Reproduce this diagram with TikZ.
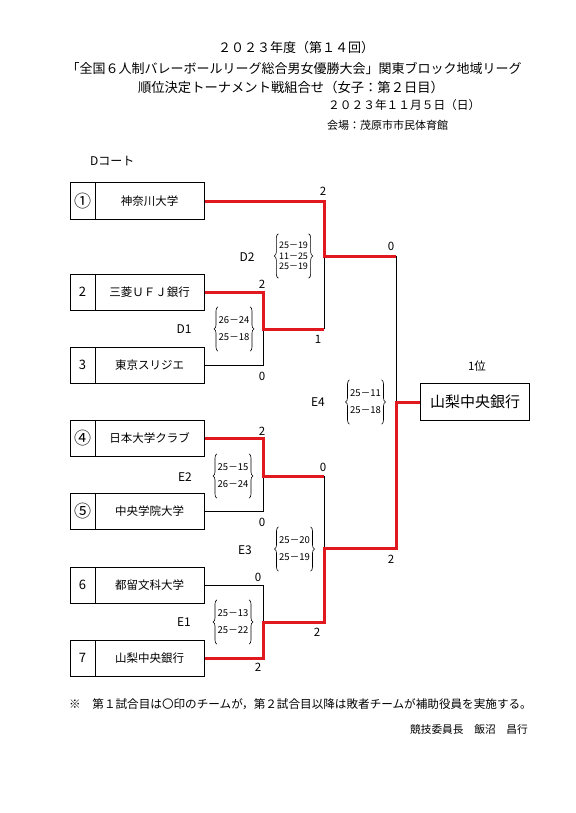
\documentclass[tikz,border=0pt]{standalone}
\usepackage{fontspec}
\setmainfont{Noto Sans CJK JP}
\usetikzlibrary{positioning,calc}
\usetikzlibrary{decorations.pathreplacing}
\definecolor{WinRed}{RGB}{225,25,30}
\tikzset{numcell/.style={draw=black,line width=1pt,minimum width=25pt,minimum height=36pt,inner sep=0pt,font=\fontsize{13}{14}\selectfont},
seedcell/.style={numcell,font=\fontsize{17}{18}\selectfont},
namecell/.style={draw=black,line width=1pt,minimum width=109pt,minimum height=36pt,inner sep=0pt,font=\fontsize{11.5}{13}\selectfont},
win/.style={draw=WinRed,line width=3pt},lose/.style={draw=black,line width=1pt},
pts/.style={font=\fontsize{11.5}{12}\selectfont,inner sep=0pt},
mlab/.style={font=\fontsize{12}{13}\selectfont,inner sep=0pt},
score/.style={font=\fontsize{9.5}{11}\selectfont,align=center,inner sep=0.5pt,minimum height=44pt},
brc/.style={decorate,decoration={brace,amplitude=4pt},line width=0.6pt}}

\begin{document}
\begin{tikzpicture}[x=1pt,y=-1pt]
\useasboundingbox (0,0) rectangle (575,813);
% heading
\node[font=\fontsize{13}{14}\selectfont] (h1) at (296,48) {２０２３年度（第１４回）};
\node[font=\fontsize{13}{14}\selectfont] (h2) at (294,68) {「全国６人制バレーボールリーグ総合男女優勝大会」関東ブロック地域リーグ};
\node[font=\fontsize{13.3}{14}\selectfont] (h3) at (291,87) {順位決定トーナメント戦組合せ（女子：第２日目）};
\node[font=\fontsize{11.7}{14}\selectfont,anchor=west,inner sep=0pt] (h4) at (328,105) {２０２３年１１月５日（日）};
\node[font=\fontsize{11}{12}\selectfont,anchor=west,inner sep=0pt] (h5) at (327,125) {会場：茂原市市民体育館};
\node[font=\fontsize{12}{13}\selectfont,anchor=west,inner sep=0pt] (court) at (90,161) {Dコート};
% teams
\node[seedcell] (n1) at (82.5,201) {①};
\node[namecell] (t1) at (149.5,201) {神奈川大学};
\node[numcell] (n2) at (82.5,292) {2};
\node[namecell] (t2) at (149.5,292) {三菱ＵＦＪ銀行};
\node[numcell] (n3) at (82.5,365) {3};
\node[namecell] (t3) at (149.5,365) {東京スリジエ};
\node[seedcell] (n4) at (82.5,438) {④};
\node[namecell] (t4) at (149.5,438) {日本大学クラブ};
\node[seedcell] (n5) at (82.5,511) {⑤};
\node[namecell] (t5) at (149.5,511) {中央学院大学};
\node[numcell] (n6) at (82.5,585) {6};
\node[namecell] (t6) at (149.5,585) {都留文科大学};
\node[numcell] (n7) at (82.5,658) {7};
\node[namecell] (t7) at (149.5,658) {山梨中央銀行};
\node[draw=black,line width=1pt,minimum width=109pt,minimum height=37pt,inner sep=2pt,anchor=west,font=\fontsize{15}{17}\selectfont] (champ) at (420,402) {山梨中央銀行};
% bracket corners
\coordinate (d1a) at (263,292);
\coordinate (d1b) at (263,365);
\coordinate (d1m) at (263,329);
\coordinate (d2a) at (324,201);
\coordinate (d2b) at (324,329);
\coordinate (d2m) at (324,256);
\coordinate (e2a) at (263,438);
\coordinate (e2b) at (263,511);
\coordinate (e2m) at (263,476);
\coordinate (e1a) at (263,585);
\coordinate (e1b) at (263,658);
\coordinate (e1m) at (263,622);
\coordinate (e3a) at (324,476);
\coordinate (e3b) at (324,622);
\coordinate (e3m) at (324,548);
\coordinate (e4a) at (396,256);
\coordinate (e4b) at (396,548);
\coordinate (e4m) at (396,402);
% losers
\draw[lose] (t3.east) -- (d1b) -- (d1m);
\draw[lose] (d2b) -- (d2m);
\draw[lose] (e4a) -- (e4m);
\draw[lose] (t5.east) -- (e2b) -- (e2m);
\draw[lose] (e3a) -- (e3m);
\draw[lose] (t6.east) -- (e1a) -- (e1m);
% winners
\draw[win] (t2.east) -- (d1a) -- (d1m) -- (d2b);
\draw[win] (t1.east) -- (d2a) -- (d2m) -- (e4a);
\draw[win] (t4.east) -- (e2a) -- (e2m) -- (e3a);
\draw[win] (t7.east) -- (e1b) -- (e1m) -- (e3b) -- (e3m) -- (e4b) -- (e4m) -- (champ.west);
% set counts
\node[pts] (p1) at (323,191) {2};
\node[pts] (p2) at (262,284) {2};
\node[pts] (p3) at (318,339) {1};
\node[pts] (p4) at (262,376) {0};
\node[pts] (p5) at (391,246) {0};
\node[pts] (p6) at (262,431) {2};
\node[pts] (p7) at (262,522) {0};
\node[pts] (p8) at (323,467) {0};
\node[pts] (p9) at (258,577) {0};
\node[pts] (p10) at (317,632) {2};
\node[pts] (p11) at (258,667) {2};
\node[pts] (p12) at (391,559) {2};
\node[pts] (rank) at (477,366) {1位};
% match labels
\node[mlab] (md2) at (247,257) {D2};
\node[mlab] (md1) at (184,329) {D1};
\node[mlab] (me4) at (318,402) {E4};
\node[mlab] (me2) at (185,477) {E2};
\node[mlab] (me3) at (245,550) {E3};
\node[mlab] (me1) at (184,622) {E1};
% scores
\node[score,font=\fontsize{9}{10.5}\selectfont] (sd2) at (293.5,256) {25－19\\11－25\\25－19};
\node[score] (sd1) at (234,329) {26－24\\[6pt]25－18};
\node[score] (se4) at (365.5,402) {25－11\\[6pt]25－18};
\node[score] (se2) at (233,476) {25－15\\[6pt]26－24};
\node[score] (se3) at (294.5,549) {25－20\\[6pt]25－19};
\node[score] (se1) at (233,622) {25－13\\[6pt]25－22};
\foreach \s in {sd2,sd1,se4,se2,se3,se1}{
\draw[brc] (\s.south west) -- (\s.north west);
\draw[brc] (\s.north east) -- (\s.south east);
}
% notes
\node[font=\fontsize{11.6}{13}\selectfont,anchor=west,inner sep=0pt] (note) at (69,704) {※　第１試合目は〇印のチームが，第２試合目以降は敗者チームが補助役員を実施する。};
\node[font=\fontsize{10.7}{12}\selectfont,anchor=east,inner sep=0pt] (chair) at (528,729) {競技委員長　飯沼　昌行};
\end{tikzpicture}
\end{document}
